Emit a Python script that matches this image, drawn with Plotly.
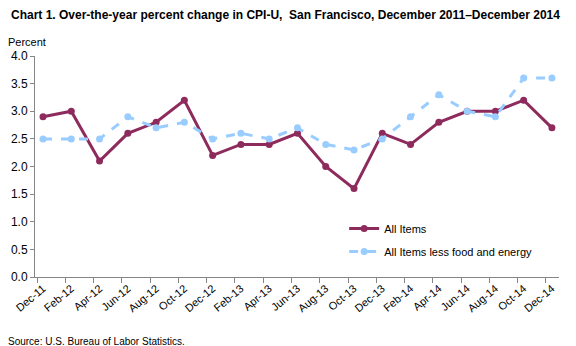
import plotly.graph_objects as go

months = ["Dec-11", "Feb-12", "Apr-12", "Jun-12", "Aug-12", "Oct-12", "Dec-12",
          "Feb-13", "Apr-13", "Jun-13", "Aug-13", "Oct-13", "Dec-13", "Feb-14",
          "Apr-14", "Jun-14", "Aug-14", "Oct-14", "Dec-14"]
all_items = [2.9, 3.0, 2.1, 2.6, 2.8, 3.2, 2.2, 2.4, 2.4, 2.6, 2.0, 1.6, 2.6, 2.4,
             2.8, 3.0, 3.0, 3.2, 2.7]
core_items = [2.5, 2.5, 2.5, 2.9, 2.7, 2.8, 2.5, 2.6, 2.5, 2.7, 2.4, 2.3, 2.5, 2.9,
              3.3, 3.0, 2.9, 3.6, 3.6]
y_ticks = [0.0, 0.5, 1.0, 1.5, 2.0, 2.5, 3.0, 3.5, 4.0]

xs = list(range(len(months)))
FONT = "Liberation Sans, Arial, sans-serif"

fig = go.Figure()
fig.add_trace(go.Scatter(
    x=xs, y=all_items, name="All Items", mode="lines+markers",
    legendgroup="a",
    line=dict(color="#8E2B5D", width=3),
    marker=dict(color="#8E2B5D", size=7),
))
fig.add_trace(go.Scatter(
    x=xs, y=core_items, name="All Items less food and energy", mode="lines+markers",
    legendgroup="b",
    line=dict(color="#99CCFF", width=3, dash="dash"),
    marker=dict(color="#99CCFF", size=7),
))

fig.update_layout(
    width=576, height=346,
    margin=dict(l=35, r=17, t=56, b=69),
    paper_bgcolor="white", plot_bgcolor="white",
    font=dict(family=FONT, size=11, color="black"),
    showlegend=True,
    legend=dict(x=0.59, y=0.285, xanchor="left", yanchor="top",
                bgcolor="rgba(0,0,0,0)", font=dict(size=11, family=FONT),
                traceorder="grouped", tracegroupgap=4, itemwidth=30),
    xaxis=dict(
        range=[-0.283, 18.25], tickmode="array", tickvals=xs, ticktext=months,
        tickangle=-40, ticks="", showgrid=False, zeroline=False,
        showline=True, linecolor="#868686", linewidth=1,
        tickfont=dict(size=11, family=FONT),
        minor=dict(tick0=-0.21, dtick=1, ticks="outside", ticklen=5,
                   tickcolor="#868686", showgrid=False),
    ),
    yaxis=dict(
        range=[0, 4], tickmode="array", tickvals=y_ticks,
        ticktext=[f"{v:.1f}" for v in y_ticks],
        ticks="outside", ticklen=4, tickcolor="#868686",
        showgrid=False, zeroline=False,
        showline=True, linecolor="#868686", linewidth=1,
        tickfont=dict(size=12, family=FONT),
    ),
    annotations=[
        dict(text="<b>Chart 1. Over-the-year percent change in CPI-U,  San Francisco, December 2011\u2013December 2014</b>",
             xref="paper", yref="paper", x=-0.05, y=1.0, xanchor="left", yanchor="bottom",
             yshift=32, showarrow=False, font=dict(size=12, family=FONT)),
        dict(text="Percent", xref="paper", yref="paper", x=-0.055, y=1.0,
             xanchor="left", yanchor="bottom", yshift=6, showarrow=False,
             font=dict(size=11, family=FONT)),
        dict(text="Source: U.S. Bureau of Labor Statistics.", xref="paper", yref="paper",
             x=-0.055, y=0, xanchor="left", yanchor="top", yshift=-57, showarrow=False,
             font=dict(size=10, family=FONT)),
    ],
)

fig.write_html("out.html")
